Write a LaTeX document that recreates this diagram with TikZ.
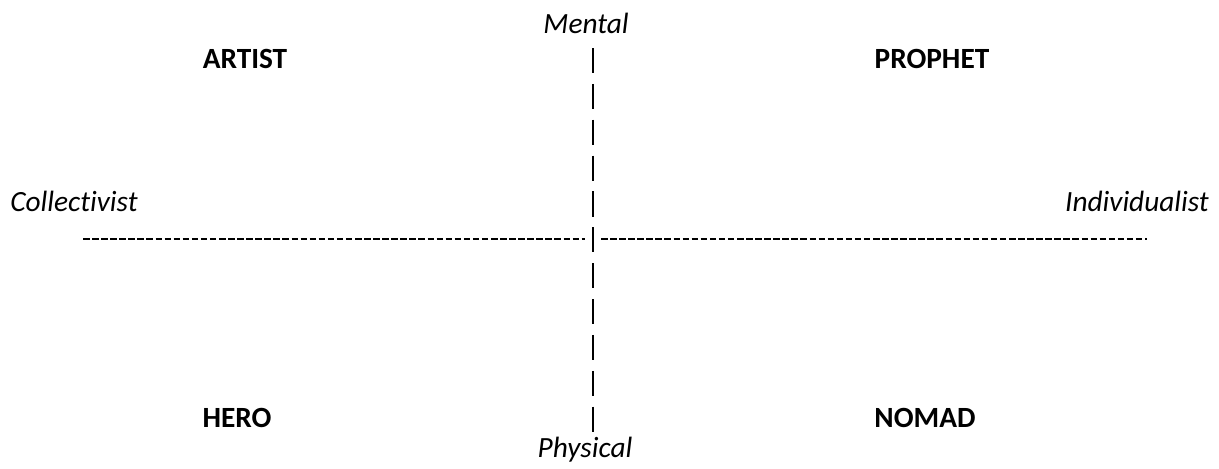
\documentclass[tikz,border=0pt]{standalone}
\usepackage{fontspec}
\setmainfont{Carlito}[Ligatures=NoCommon]
\usetikzlibrary{positioning}

\begin{document}
\begin{tikzpicture}[x=0.75pt,y=-0.75pt,
quad/.style={font=\fontsize{22}{26}\selectfont\bfseries, inner sep=0pt},
pole/.style={font=\fontsize{22}{26}\selectfont\itshape, inner sep=0pt, anchor=base},
vbar/.style={line width=2pt, dash pattern=on 18.8pt off 8.1pt},
hdash/.style={line width=1.8pt, dash pattern=on 4.9pt off 1.9pt}]
\useasboundingbox (0,0) rectangle (1219,468);
\node[pole] (mental) at (586,33) {Mental};
\node[pole] (physical) at (585,457) {Physical};
\node[pole] (collect) at (74,211) {Collectivist};
\node[pole] (indiv) at (1137,211) {Individualist};
\node[quad] (artist) at (245,59) {ARTIST};
\node[quad] (prophet) at (932,59) {PROPHET};
\node[quad] (hero) at (237,418) {HERO};
\node[quad] (nomad) at (925,418) {NOMAD};
\coordinate (vtop) at (593,48);
\coordinate (vbot) at (593,432);
\coordinate (hl1) at (83,239);
\coordinate (hl2) at (585,239);
\coordinate (hr1) at (601,239);
\coordinate (hr2) at (1147,239);
\draw[vbar] (vtop) -- (vbot);
\draw[hdash] (hl1) -- (hl2);
\draw[hdash] (hr1) -- (hr2);
\end{tikzpicture}
\end{document}
